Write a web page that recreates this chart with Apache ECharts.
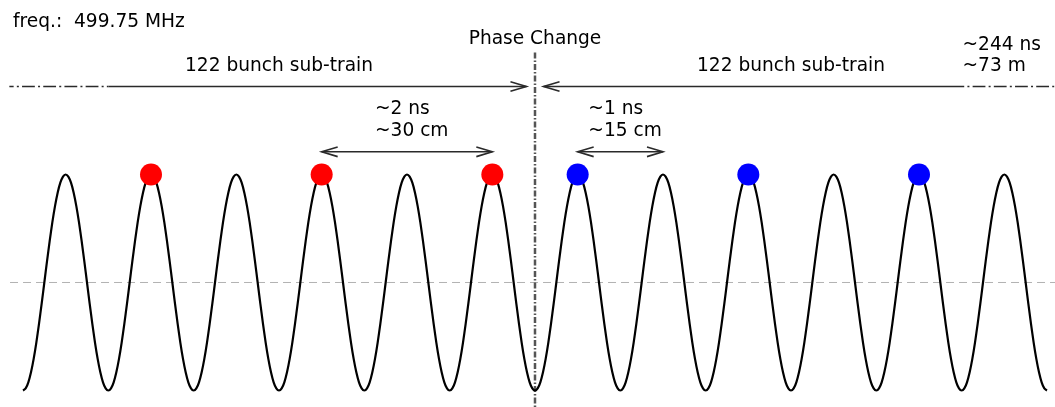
<!DOCTYPE html>
<html><head><meta charset="utf-8">
<script src="https://cdn.jsdelivr.net/npm/echarts@6/dist/echarts.min.js"></script>
<style>html,body{margin:0;padding:0;background:#fff}#chart{width:1055px;height:407px}</style>
</head><body><div id="chart"></div>
<script>
// ---------------- data ----------------
const nPeriods = 12;                       // RF periods drawn
// one RF period of the (normalised) waveform, sampled in 32 steps, starting at a trough
const waveShape = [-1, -0.981, -0.924, -0.831, -0.707, -0.556, -0.383, -0.195,
                   0, 0.195, 0.383, 0.556, 0.707, 0.831, 0.924, 0.981,
                   1, 0.981, 0.924, 0.831, 0.707, 0.556, 0.383, 0.195,
                   0, -0.195, -0.383, -0.556, -0.707, -0.831, -0.924, -0.981];
const redBunches = [1.5, 3.5, 5.5];        // bunch positions before phase change (periods)
const blueBunches = [6.5, 8.5, 10.5];      // bunch positions after phase change
const bunchLevel = 1;                      // bunches sit on the crests
const phaseChangeAt = 6;
const subTrainSpans = [[1, 5.9], [6.1, 11.03]];
const bunchSpacingSpan = [3.5, 5.5];
const rfSpacingSpan = [6.5, 7.5];
const freqLabel = 'freq.:  499.75 MHz';
const phaseLabel = 'Phase Change';
const subTrainLabel = '122 bunch sub-train';
const trainLengthLabel = ['~244 ns', '~73 m'];
const bunchSpacingLabel = ['~2 ns', '~30 cm'];
const rfSpacingLabel = ['~1 ns', '~15 cm'];

// ---------------- layout ----------------
const X_MIN = -0.2695, X_MAX = 12.0938;
const Y_MIN = -1.1528, Y_MAX = 2.6157;
const Y_TOP_ARROW = 1.815, Y_LOW_ARROW = 1.21, Y_VLINE_TOP = 2.13;
const FONT = '18.6px "DejaVu Sans"';
const TEXT_COLOR = '#000';
const ARROW_COLOR = '#2a2a2a';

const waveData = [];
for (let p = 0; p < nPeriods; p++) {
  waveShape.forEach((v, k) => waveData.push([p + k / waveShape.length, v]));
}
waveData.push([nPeriods, waveShape[0]]);

const arrows = [
  {x1: subTrainSpans[0][0], x2: subTrainSpans[0][1], y: Y_TOP_ARROW, start: false, end: true},
  {x1: subTrainSpans[1][0], x2: subTrainSpans[1][1], y: Y_TOP_ARROW, start: true, end: false},
  {x1: bunchSpacingSpan[0], x2: bunchSpacingSpan[1], y: Y_LOW_ARROW, start: true, end: true},
  {x1: rfSpacingSpan[0], x2: rfSpacingSpan[1], y: Y_LOW_ARROW, start: true, end: true}
];

const texts = [
  {t: freqLabel, x: -0.117, y: 2.412, align: 'left'},
  {t: phaseLabel, x: phaseChangeAt, y: 2.2546, align: 'center'},
  {t: subTrainLabel, x: 3.0, y: 2.0046, align: 'center'},
  {t: subTrainLabel, x: 9.0, y: 2.0046, align: 'center'},
  {t: trainLengthLabel[0], x: 11.01, y: 2.200, align: 'left'},
  {t: trainLengthLabel[1], x: 11.01, y: 2.005, align: 'left'},
  {t: bunchSpacingLabel[0], x: 4.125, y: 1.6065, align: 'left'},
  {t: bunchSpacingLabel[1], x: 4.125, y: 1.4056, align: 'left'},
  {t: rfSpacingLabel[0], x: 6.625, y: 1.6065, align: 'left'},
  {t: rfSpacingLabel[1], x: 6.625, y: 1.4056, align: 'left'}
];

const HEAD_L = 16, HEAD_W = 4.8;

const option = {
  animation: false,
  backgroundColor: '#fff',
  grid: {left: 0, right: 0, top: 0, bottom: 0},
  xAxis: {type: 'value', min: X_MIN, max: X_MAX, show: false},
  yAxis: {type: 'value', min: Y_MIN, max: Y_MAX, show: false},
  series: [
    { // baseline (zero level)
      type: 'line', data: [[-0.152, 0], [X_MAX, 0]], symbol: 'none', silent: true, z: 1,
      lineStyle: {color: '#b3b3b3', width: 1, type: [8, 5]}
    },
    { // phase change marker
      type: 'line', data: [[phaseChangeAt, Y_VLINE_TOP], [phaseChangeAt, Y_MIN]], symbol: 'none', silent: true, z: 2,
      lineStyle: {color: '#555', width: 2.5, type: [6, 2, 1.5, 2]}
    },
    { // dash-dot continuation left
      type: 'line', data: [[-0.16, Y_TOP_ARROW], [subTrainSpans[0][0], Y_TOP_ARROW]], symbol: 'none', silent: true,
      lineStyle: {color: ARROW_COLOR, width: 1.6, type: [12.8, 3.2, 2, 3.2], dashOffset: 8.5}
    },
    { // dash-dot continuation right
      type: 'line', data: [[subTrainSpans[1][1], Y_TOP_ARROW], [X_MAX, Y_TOP_ARROW]], symbol: 'none', silent: true,
      lineStyle: {color: ARROW_COLOR, width: 1.6, type: [12.8, 3.2, 2, 3.2], dashOffset: 12.8}
    },
    { // RF wave
      type: 'line', data: waveData, symbol: 'none', smooth: 0.3, silent: true, z: 3,
      lineStyle: {color: '#000', width: 2.2}
    },
    {
      type: 'scatter', data: redBunches.map(x => [x, bunchLevel]), symbolSize: 22, z: 5,
      itemStyle: {color: '#ff0000', opacity: 1}
    },
    {
      type: 'scatter', data: blueBunches.map(x => [x, bunchLevel]), symbolSize: 22, z: 5,
      itemStyle: {color: '#0000ff', opacity: 1}
    },
    { // arrows
      type: 'custom', z: 4, silent: true,
      data: arrows.map(a => [a.x1, a.x2, a.y]),
      renderItem: function (params, api) {
        const a = arrows[params.dataIndex];
        const p1 = api.coord([api.value(0), api.value(2)]);
        const p2 = api.coord([api.value(1), api.value(2)]);
        const st = {stroke: ARROW_COLOR, lineWidth: 1.6, fill: null};
        const children = [{type: 'line', shape: {x1: p1[0], y1: p1[1], x2: p2[0], y2: p2[1]}, style: st}];
        if (a.start) children.push({type: 'polyline', shape: {points: [[p1[0] + HEAD_L, p1[1] - HEAD_W], [p1[0], p1[1]], [p1[0] + HEAD_L, p1[1] + HEAD_W]]}, style: st});
        if (a.end) children.push({type: 'polyline', shape: {points: [[p2[0] - HEAD_L, p2[1] - HEAD_W], [p2[0], p2[1]], [p2[0] - HEAD_L, p2[1] + HEAD_W]]}, style: st});
        return {type: 'group', children: children};
      }
    },
    { // text annotations
      type: 'custom', z: 6, silent: true,
      data: texts.map(t => [t.x, t.y]),
      renderItem: function (params, api) {
        const t = texts[params.dataIndex];
        const p = api.coord([api.value(0), api.value(1)]);
        return {type: 'text', x: p[0], y: p[1], style: {text: t.t, font: FONT, fill: TEXT_COLOR, align: t.align, verticalAlign: 'middle'}};
      }
    }
  ]
};

const chart = echarts.init(document.getElementById('chart'), null, {renderer: 'canvas'});
chart.setOption(option);
</script>
</body></html>
